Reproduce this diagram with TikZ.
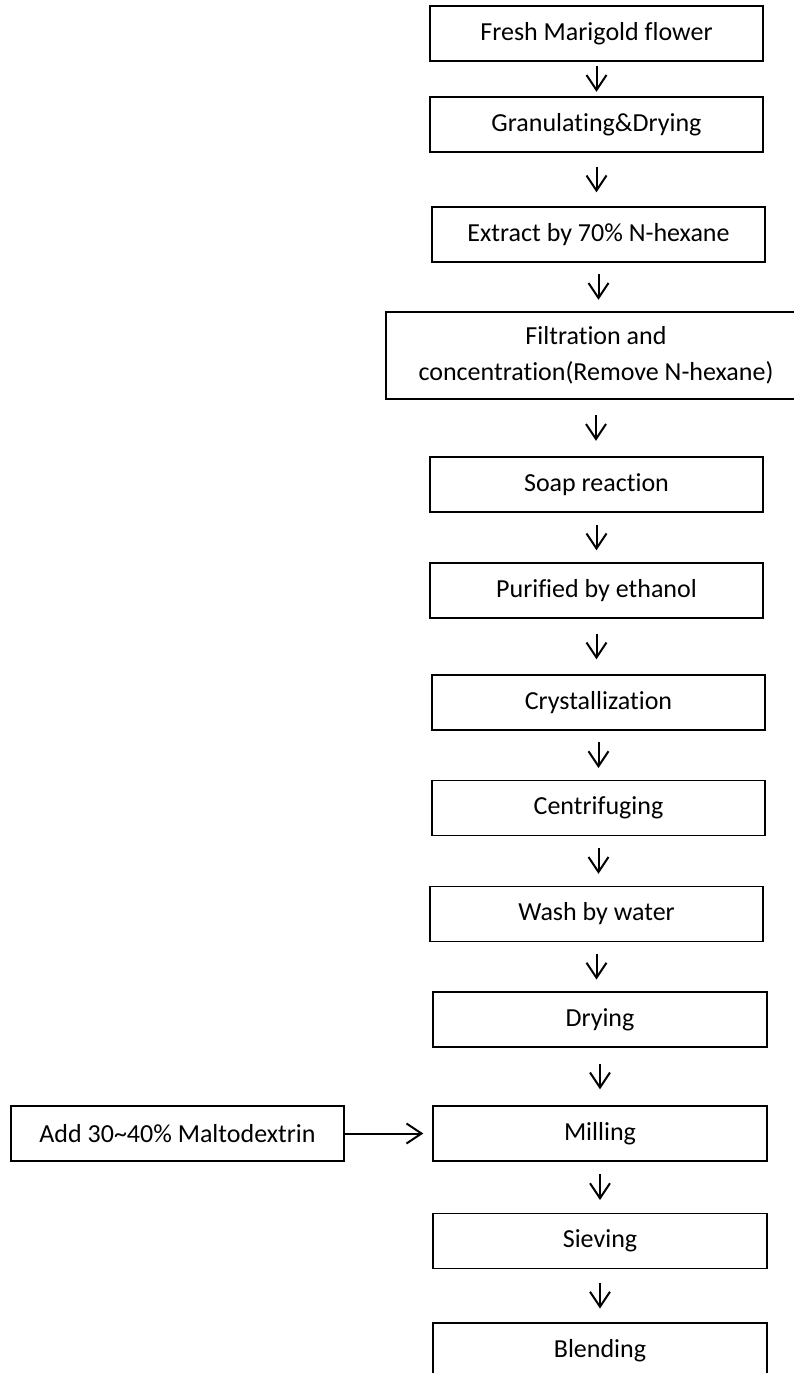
\documentclass[tikz,border=0pt]{standalone}
\usepackage{fontspec}
\setmainfont{Carlito}[Ligatures={CommonOff,ContextualOff}]
\usetikzlibrary{arrows.meta,calc}
\begin{document}
\begin{tikzpicture}[x=1pt,y=-1pt,
  box/.style={draw, line width=1.4pt, minimum width=333pt, minimum height=55pt,
    inner sep=0pt, font=\fontsize{26}{36}\selectfont, align=center},
  arr/.style={line width=2pt, -{Straight Barb[length=15pt,width=20pt]}},
  gap/.style={shorten <=#1, shorten >=#1}]
\useasboundingbox (0,0) rectangle (794,1373);
\clip (0,0) rectangle (794,1373);
\fill[white] (0,0) rectangle (794,1373);
\node[box] (n1) at (596.5,33.5) {Fresh Marigold flower};
\node[box] (n2) at (596.5,124.5) {Granulating\&Drying};
\node[box] (n3) at (598.5,234.5) {Extract by 70\% N-hexane};
\node[box, minimum width=420pt, minimum height=87pt] (n4) at (596,355.5) {Filtration and\\concentration(Remove N-hexane)};
\node[box] (n5) at (596.5,484.5) {Soap reaction};
\node[box] (n6) at (596.5,590.5) {Purified by ethanol};
\node[box] (n7) at (598.5,702.5) {Crystallization};
\node[box] (n8) at (598.5,808) {Centrifuging};
\node[box] (n9) at (596.5,914) {Wash by water};
\node[box, minimum width=334pt] (n10) at (600,1019.5) {Drying};
\node[box, minimum width=334pt] (n11) at (600,1133.5) {Milling};
\node[box, minimum width=334pt] (n12) at (600,1241) {Sieving};
\node[box, minimum width=334pt] (n13) at (600,1350.5) {Blending};
\node[box] (m) at (177.5,1133.5) {Add 30\textasciitilde40\% Maltodextrin};
\draw[arr, gap=4.5] (n1.south) -- (n1.south |- n2.north);
\draw[arr, gap=14] (n2.south) -- (n2.south |- n3.north);
\draw[arr, gap=11.5] (n3.south) -- (n3.south |- n4.north);
\draw[arr, gap=15.5] (n4.south) -- (n4.south |- n5.north);
\draw[arr, gap=12] (n5.south) -- (n5.south |- n6.north);
\draw[arr, gap=15] (n6.south) -- (n6.south |- n7.north);
\draw[arr, gap=11.75] (n7.south) -- (n7.south |- n8.north);
\draw[arr, gap=12] (n8.south) -- (n8.south |- n9.north);
\draw[arr, gap=11.75] (n9.south) -- (n9.south |- n10.north);
\draw[arr, gap=16] (n10.south) -- (n10.south |- n11.north);
\draw[arr, gap=12.75] (n11.south) -- (n11.south |- n12.north);
\draw[arr, gap=13.75] (n12.south) -- (n12.south |- n13.north);
\draw[arr, shorten >=9pt] (m.east) -- (n11.west);
\end{tikzpicture}
\end{document}
